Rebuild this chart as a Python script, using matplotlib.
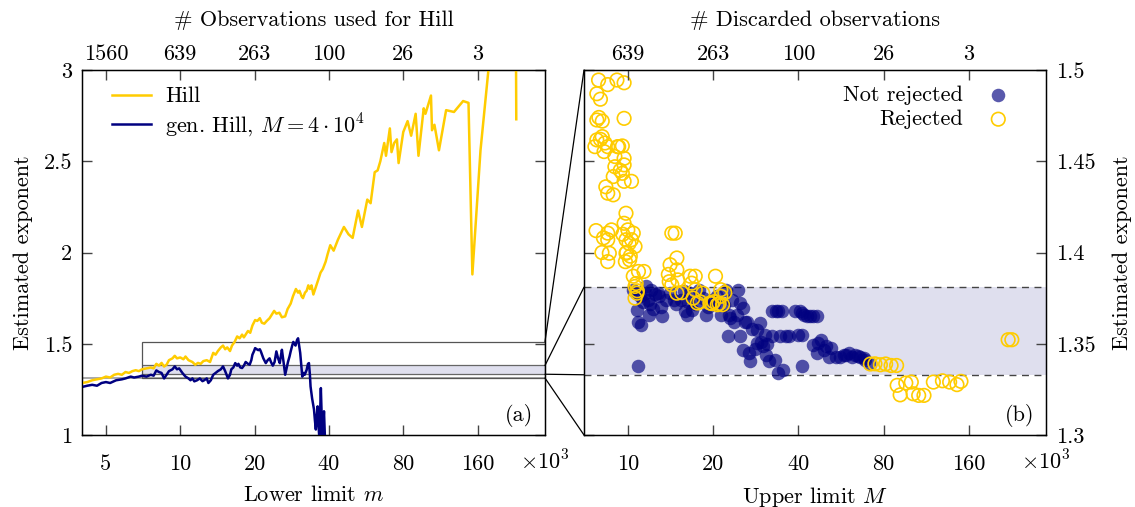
import matplotlib
matplotlib.use("Agg")
import matplotlib.pyplot as plt
from matplotlib.patches import Rectangle, ConnectionPatch
from matplotlib.ticker import NullLocator

# Werte (x in Tausend)
hill_m = [4.0, 4.2, 4.4, 4.6, 4.8, 5.0, 5.2, 5.4, 5.6, 5.8, 6.0, 6.2, 6.4, 6.6, 6.8, 7.0, 7.3, 7.6, 7.8, 8.0,
          8.2, 8.4, 8.6, 8.8, 9.0, 9.3, 9.5, 9.7, 10.0, 10.3, 10.5, 10.8, 11.2, 11.5, 11.8, 12.1, 12.4, 12.8, 13.2, 13.6,
          13.9, 14.2, 14.6, 14.9, 15.2, 15.5, 15.9, 16.2, 16.6, 17.0, 17.4, 17.8, 18.1, 18.4, 18.8, 19.2, 19.6, 20.1, 20.5, 21.0,
          21.4, 21.9, 22.4, 23.0, 23.5, 24.0, 24.5, 25.2, 25.8, 26.6, 27.2, 28.0, 28.6, 29.4, 30.0, 30.4, 31.0, 31.4, 32.0, 32.5,
          33.0, 33.5, 34.0, 34.6, 35.2, 35.8, 36.4, 37.0, 37.8, 38.8, 39.5, 40.5, 41.8, 43.5, 46.0, 48.0, 49.9, 52.5, 54.4, 57.2,
          59.0, 61.3, 63.0, 64.6, 67.0, 68.1, 70.6, 71.7, 73.5, 75.4, 76.6, 80.0, 83.3, 86.1, 89.8, 92.2, 96.8, 98.4, 103.6, 104.6,
          107.0, 111.6, 119.3, 128.4, 139.8, 147.0, 152.4, 164.4, 177.0, 190.0, 228.0, 229.5]
hill_y = [1.285, 1.29, 1.30, 1.305, 1.31, 1.32, 1.315, 1.33, 1.335, 1.33, 1.345, 1.34, 1.35, 1.355, 1.35, 1.36, 1.365, 1.37, 1.365, 1.39,
          1.38, 1.395, 1.375, 1.385, 1.41, 1.42, 1.434, 1.42, 1.425, 1.415, 1.43, 1.41, 1.40, 1.385, 1.395, 1.39, 1.405, 1.41, 1.40, 1.45,
          1.44, 1.46, 1.48, 1.49, 1.47, 1.48, 1.46, 1.49, 1.51, 1.54, 1.53, 1.55, 1.535, 1.55, 1.57, 1.56, 1.60, 1.63, 1.625, 1.64,
          1.615, 1.61, 1.625, 1.64, 1.66, 1.68, 1.665, 1.67, 1.645, 1.65, 1.69, 1.72, 1.76, 1.80, 1.78, 1.79, 1.76, 1.75, 1.78, 1.79,
          1.82, 1.80, 1.82, 1.77, 1.80, 1.83, 1.86, 1.89, 1.91, 1.95, 1.99, 2.04, 2.01, 2.07, 2.14, 2.10, 2.08, 2.23, 2.14, 2.29,
          2.27, 2.44, 2.45, 2.50, 2.60, 2.53, 2.68, 2.55, 2.60, 2.62, 2.49, 2.66, 2.72, 2.64, 2.76, 2.53, 2.79, 2.76, 2.86, 2.67,
          2.70, 2.56, 2.78, 2.77, 2.83, 2.82, 1.88, 2.56, 3.0, 3.3, 3.6, 2.73]

gen_m = [4.0, 4.2, 4.4, 4.6, 4.8, 5.0, 5.2, 5.5, 5.8, 6.0, 6.3, 6.5, 6.8, 7.0, 7.3, 7.6, 7.8, 8.0, 8.2, 8.4,
         8.6, 8.8, 9.0, 9.3, 9.5, 9.7, 9.9, 10.2, 10.5, 10.8, 11.0, 11.2, 11.4, 11.7, 12.0, 12.3, 12.5, 12.8, 13.0, 13.3,
         13.6, 13.9, 14.2, 14.6, 14.9, 15.2, 15.6, 15.9, 16.1, 16.4, 16.7, 17.0, 17.2, 17.5, 17.8, 18.1, 18.4, 18.8, 19.1, 19.4,
         19.6, 19.9, 20.1, 20.4, 20.7, 21.0, 21.2, 21.7, 22.2, 22.6, 23.0, 23.3, 23.7, 24.1, 24.5, 24.9, 25.3, 25.6, 25.8, 26.2,
         26.6, 27.0, 27.3, 27.7, 28.0, 28.4, 28.7, 29.0, 29.3, 29.7, 30.0, 30.6, 31.2, 31.6, 31.9, 32.5, 32.9, 33.2, 33.5, 33.7,
         34.2, 34.8, 35.1, 35.4, 35.7, 36.0, 36.3, 36.6, 36.9, 37.1, 37.4, 37.6, 37.9, 38.2, 38.5, 38.8]
gen_y = [1.263, 1.27, 1.275, 1.27, 1.285, 1.29, 1.285, 1.30, 1.305, 1.31, 1.32, 1.315, 1.32, 1.325, 1.32, 1.33, 1.325, 1.354, 1.345, 1.34,
         1.31, 1.33, 1.35, 1.36, 1.376, 1.36, 1.365, 1.34, 1.32, 1.31, 1.30, 1.31, 1.294, 1.30, 1.31, 1.295, 1.30, 1.31, 1.285, 1.30,
         1.33, 1.34, 1.35, 1.36, 1.376, 1.35, 1.31, 1.33, 1.36, 1.37, 1.394, 1.38, 1.39, 1.37, 1.367, 1.38, 1.40, 1.39, 1.385, 1.41,
         1.44, 1.46, 1.476, 1.47, 1.465, 1.47, 1.458, 1.42, 1.394, 1.41, 1.42, 1.40, 1.38, 1.40, 1.458, 1.42, 1.394, 1.44, 1.467, 1.40,
         1.33, 1.37, 1.40, 1.43, 1.458, 1.49, 1.51, 1.50, 1.49, 1.52, 1.53, 1.45, 1.32, 1.34, 1.33, 1.357, 1.39, 1.394, 1.33, 1.266,
         1.20, 1.14, 1.08, 1.03, 1.10, 1.157, 1.05, 0.98, 1.15, 1.257, 1.10, 0.97, 1.05, 1.13, 1.0, 0.9]

rej_x = [7.88, 7.77, 8.0, 8.49, 9.15, 9.7, 7.77, 8.12, 9.7, 7.77, 8.12, 7.65, 8.49, 8.24, 9.28, 9.56, 9.0, 9.7, 9.7, 9.0,
         8.88, 9.56, 10.3, 9.7, 8.36, 8.49, 8.88, 9.85, 7.72, 8.49, 8.75, 9.7, 10.0, 10.45, 9.85, 10.3, 8.49, 10.6, 9.85, 8.6,
         8.49, 10.15, 10.45, 10.9, 11.4, 10.6, 10.77, 10.6, 14.3, 14.7, 14.9, 14.1, 13.9, 14.9, 14.3, 14.9, 16.6, 17.3, 16.8, 17.3,
         17.6, 18.4, 20.4, 19.5, 20.7, 21.6, 21.3, 21.3, 71.9, 74.6, 78.0, 81.4, 85.1, 89.0, 89.4, 91.6, 95.9, 100.3, 101.8, 106.5,
         111.2, 120.0, 129.2, 137.0, 145.4, 150.2, 220.5, 227.2, 8.3, 9.4, 9.6, 10.1, 9.9, 10.2, 9.8, 10.7, 10.8, 8.2,
         8.1, 15.0, 14.0, 17.0, 18.0, 19.8, 20.1, 21.0, 22.0, 15.5, 7.9, 8.0, 9.2]
rej_y = [1.4945, 1.487, 1.484, 1.492, 1.4945, 1.493, 1.4726, 1.472, 1.4735, 1.4617, 1.4635, 1.458, 1.458, 1.4553, 1.458, 1.4584, 1.4526, 1.4516, 1.448, 1.447,
         1.4416, 1.4434, 1.439, 1.439, 1.436, 1.4325, 1.4316, 1.4215, 1.412, 1.4106, 1.4124, 1.416, 1.4124, 1.4106, 1.407, 1.407, 1.407, 1.4033, 1.3996, 1.3996,
         1.395, 1.396, 1.387, 1.3896, 1.3896, 1.3814, 1.3777, 1.375, 1.4106, 1.4106, 1.397, 1.3933, 1.388, 1.3905, 1.3823, 1.3777, 1.387, 1.387, 1.3832, 1.3796,
         1.3723, 1.3777, 1.387, 1.3723, 1.3714, 1.3714, 1.3796, 1.376, 1.3389, 1.339, 1.3385, 1.3389, 1.3381, 1.3381, 1.3272, 1.322, 1.3285, 1.329, 1.3226, 1.3217,
         1.3217, 1.329, 1.3297, 1.329, 1.3276, 1.3294, 1.3522, 1.3522, 1.46, 1.445, 1.41, 1.405, 1.40, 1.398, 1.395, 1.383, 1.379, 1.408,
         1.40, 1.385, 1.384, 1.375, 1.373, 1.372, 1.373, 1.372, 1.378, 1.378, 1.474, 1.462, 1.458]

acc_x = [10.9, 10.45, 10.9, 11.6, 12.1, 12.5, 11.8, 11.3, 10.8, 10.9, 11.1, 13.1, 13.2, 12.9, 14.1, 14.5, 15.4, 15.9, 16.3, 16.8,
         16.6, 17.9, 18.9, 19.8, 20.7, 21.3, 22.3, 23.0, 23.3, 24.4, 24.8, 25.5, 25.9, 22.6, 24.8, 29.2, 28.7, 25.5, 26.7, 27.1,
         28.7, 30.0, 31.4, 30.5, 32.4, 34.4, 37.0, 39.9, 41.1, 32.4, 33.9, 38.8, 41.1, 43.0, 45.0, 46.4, 33.9, 35.4, 41.1, 45.0,
         47.0, 49.2, 46.4, 52.2, 51.4, 54.5, 57.9, 60.5, 63.2, 66.1, 69.1, 71.2, 11.0, 11.5, 12.0, 12.8, 13.6, 11.9, 12.3, 14.8,
         15.8, 16.2, 17.2, 18.5, 19.2, 20.2, 21.8, 22.7, 23.8, 24.2, 26.3, 27.5, 28.2, 29.5, 30.8, 31.0, 33.0, 36.2, 33.5, 35.0,
         40.5, 42.0, 44.0, 48.0, 50.0, 56.0, 59.0, 62.0, 65.0, 68.0]
acc_y = [1.338, 1.3796, 1.3777, 1.3814, 1.3796, 1.377, 1.374, 1.373, 1.3686, 1.362, 1.3604, 1.3704, 1.365, 1.376, 1.3777, 1.374, 1.374, 1.3677, 1.373, 1.3686,
         1.3777, 1.3796, 1.366, 1.374, 1.376, 1.366, 1.3796, 1.364, 1.374, 1.3796, 1.3723, 1.3695, 1.362, 1.354, 1.354, 1.3613, 1.3577, 1.3467, 1.345, 1.3403,
         1.3504, 1.3485, 1.3403, 1.3549, 1.354, 1.354, 1.354, 1.3549, 1.3549, 1.3677, 1.3677, 1.3677, 1.3668, 1.365, 1.365, 1.365, 1.334, 1.3358, 1.3376, 1.3494,
         1.3504, 1.3467, 1.345, 1.3476, 1.343, 1.343, 1.344, 1.345, 1.344, 1.343, 1.3412, 1.3394, 1.376, 1.378, 1.372, 1.378, 1.374, 1.366, 1.369, 1.372,
         1.379, 1.366, 1.372, 1.375, 1.370, 1.372, 1.371, 1.366, 1.362, 1.366, 1.362, 1.358, 1.347, 1.351, 1.344, 1.35, 1.341, 1.354, 1.3677, 1.3677,
         1.3677, 1.366, 1.365, 1.352, 1.349, 1.343, 1.344, 1.343, 1.3435, 1.342]

ticks_a = [5, 10, 20, 40, 80, 160]
ticks_b = [10, 20, 40, 80, 160]
top_labels_a = ['1560', '639', '263', '100', '26', '3']
top_labels_b = ['639', '263', '100', '26', '3']
band = (1.333, 1.381)

plt.rcParams['font.family'] = 'cmr10'
plt.rcParams['mathtext.fontset'] = 'cm'
plt.rcParams['axes.unicode_minus'] = False
plt.rcParams['font.size'] = 16

GOLD = '#ffcc00'
NAVY = '#000080'
BANDC = '#dfdfee'

fig = plt.figure(figsize=(11.35, 5.07), dpi=100)
axa = fig.add_axes([82/1135, 72/507, 463/1135, 365/507])
axb = fig.add_axes([584/1135, 72/507, 462/1135, 365/507])


def style_axes(ax, xticks, xlim):
    ax.set_xscale('log')
    ax.set_xlim(*xlim)
    ax.set_xticks(xticks)
    ax.set_xticklabels([str(t) for t in xticks])
    ax.xaxis.set_minor_locator(NullLocator())
    ax.tick_params(direction='in', length=7, width=1, color='#444', top=False, left=True, right=True, pad=7)
    ax.tick_params(axis='x', pad=14)
    for s in ax.spines.values():
        s.set_linewidth(1.0)


def add_top(ax, xticks, labels, title):
    top = ax.twiny()
    top.set_xscale('log')
    top.set_xlim(ax.get_xlim())
    top.set_xticks(xticks)
    top.set_xticklabels(labels)
    top.xaxis.set_minor_locator(NullLocator())
    top.tick_params(direction='in', length=7, width=1, color='#444', pad=4.5)
    top.set_xlabel(title, labelpad=13)
    return top


# (a) Hill-Schaetzer
style_axes(axa, ticks_a, (4, 300))
axa.set_ylim(1, 3)
axa.set_yticks([1, 1.5, 2, 2.5, 3])
axa.set_yticklabels(['1', '1.5', '2', '2.5', '3'])
axa.fill_between([7, 300], band[0], band[1], color=BANDC, lw=0, zorder=1)
axa.hlines(band, 7, 300, color='#666', lw=0.9, zorder=1.5)
axa.plot([4, 300], [1.312, 1.312], color='#999', lw=1.2, zorder=1.5)
axa.add_patch(Rectangle((7, 1.312), 293, 0.2, fill=False, ec='#555', lw=0.9, zorder=1.5))
axa.plot(hill_m, hill_y, color=GOLD, lw=1.8, label='Hill', zorder=3)
axa.plot(gen_m, gen_y, color=NAVY, lw=1.8, label=r'gen. Hill, $M = 4\cdot10^4$', zorder=3)
axa.legend(loc='upper left', bbox_to_anchor=(0.045, 0.978), borderaxespad=0, frameon=False,
           handlelength=1.75, handletextpad=0.65, labelspacing=0.2)
axa.set_ylabel('Estimated exponent', labelpad=8)
axa.set_xlabel('Lower limit $m$', labelpad=8)
axa.text(0.975, 0.022, '(a)', transform=axa.transAxes, ha='right', va='bottom')
axa.text(1.0, -0.073, r'$\times10^3$', transform=axa.transAxes, ha='center', va='center')
add_top(axa, ticks_a, top_labels_a, '# Observations used for Hill')

# (b) verallgemeinerter Hill-Schaetzer
style_axes(axb, ticks_b, (7, 300))
axb.set_ylim(1.3, 1.5)
axb.set_yticks([1.3, 1.35, 1.4, 1.45, 1.5])
axb.set_yticklabels(['1.3', '1.35', '1.4', '1.45', '1.5'])
axb.yaxis.tick_right()
axb.yaxis.set_label_position('right')
axb.tick_params(axis='y', left=True, right=True, direction='in')
axb.fill_between([7, 300], band[0], band[1], color=BANDC, lw=0, zorder=1)
axb.hlines(band, 7, 300, color='#444', lw=1.0, linestyles=(0, (5, 4)), zorder=1.5)
axb.scatter(acc_x, acc_y, s=95, color=NAVY, alpha=0.65, lw=0, label='Not rejected', zorder=3)
axb.scatter(rej_x, rej_y, s=95, facecolors='none', edgecolors=GOLD, lw=1.2, label='Rejected', zorder=4)
axb.legend(loc='upper right', bbox_to_anchor=(0.94, 0.982), borderaxespad=0, frameon=False, markerfirst=False,
           handlelength=1.0, handletextpad=1.1, labelspacing=0.2)
axb.set_ylabel('Estimated exponent', labelpad=12)
axb.set_xlabel('Upper limit $M$', labelpad=8)
axb.text(0.975, 0.022, '(b)', transform=axb.transAxes, ha='right', va='bottom')
axb.text(1.0, -0.073, r'$\times10^3$', transform=axb.transAxes, ha='center', va='center')
add_top(axb, ticks_b, top_labels_b, '# Discarded observations')

# Verbindungslinien zwischen den Panels
for ya, yb in [(1.512, 1.5), (band[1], band[1]), (band[0], band[0]), (1.312, 1.3)]:
    con = ConnectionPatch(xyA=(300, ya), coordsA=axa.transData, xyB=(7, yb), coordsB=axb.transData,
                          color='black', lw=0.9)
    fig.add_artist(con)

fig.savefig('out.png', dpi=100)
